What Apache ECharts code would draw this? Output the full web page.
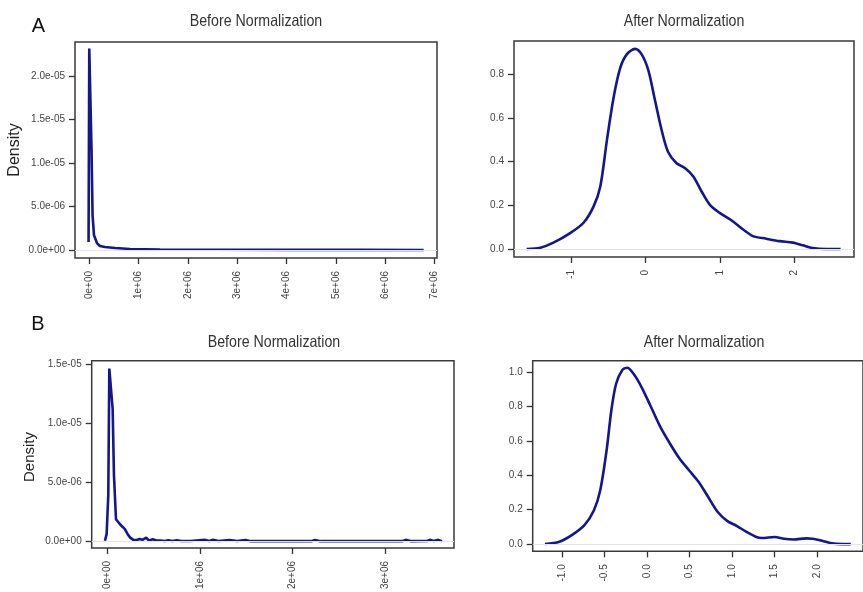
<!DOCTYPE html>
<html><head><meta charset="utf-8">
<script src="https://cdn.jsdelivr.net/npm/echarts@6/dist/echarts.min.js"></script>
<style>html,body{margin:0;padding:0;background:#fff}#c{width:863px;height:592px}</style>
</head><body><div id="c"></div>
<script>
// ---------- data ----------
// Panel A, before normalization
const aBeforeX = [-1.0e4, 4e3, 3.0e4, 5.0e4, 7.1e4, 1.0e5, 1.6e5, 2.2e5, 3.2e5, 5.3e5, 8.3e5, 1.44e6, 2.5e6, 4.0e6, 5.5e6, 6.78e6];
const aBeforeY = [9.2e-7, 2.32e-5, 2.32e-5, 1.15e-5, 4.0e-6, 1.7e-6, 8e-7, 4.6e-7, 3.5e-7, 2.3e-7, 1.2e-7, 6e-8, 3e-8, 2e-8, 1e-8, 0];
const aBeforeXTicks = [0, 1e6, 2e6, 3e6, 4e6, 5e6, 6e6, 7e6];
const aBeforeXLabels = ['0e+00', '1e+06', '2e+06', '3e+06', '4e+06', '5e+06', '6e+06', '7e+06'];
const aBeforeYTicks = [0, 5e-6, 1e-5, 1.5e-5, 2e-5];
const aBeforeYLabels = ['0.0e+00', '5.0e-06', '1.0e-05', '1.5e-05', '2.0e-05'];

// Panel A, after normalization
const aAfterX = [-1.60, -1.415, -1.24, -1.01, -0.835, -0.70, -0.61, -0.52, -0.43, -0.34, -0.254, -0.143, -0.054, 0.036, 0.125, 0.214, 0.30, 0.415, 0.527, 0.64, 0.75, 0.86, 0.995, 1.17, 1.31, 1.44, 1.62, 1.80, 1.98, 2.11, 2.245, 2.42, 2.62];
const aAfterY = [0, 0.006, 0.029, 0.074, 0.12, 0.195, 0.286, 0.50, 0.695, 0.83, 0.89, 0.915, 0.89, 0.817, 0.68, 0.544, 0.445, 0.392, 0.37, 0.332, 0.264, 0.203, 0.165, 0.127, 0.089, 0.059, 0.047, 0.036, 0.029, 0.017, 0.0045, 0, 0];
const aAfterXTicks = [-1, 0, 1, 2];
const aAfterXLabels = ['-1', '0', '1', '2'];
const aAfterYTicks = [0, 0.2, 0.4, 0.6, 0.8];
const aAfterYLabels = ['0.0', '0.2', '0.4', '0.6', '0.8'];

// Panel B, before normalization
const bBeforeX = [-2.5e4, -7e3, 1.1e4, 2.2e4, 3.6e4, 5.8e4, 7.2e4, 9.4e4, 1.37e5, 1.9e5, 2.2e5, 2.45e5, 2.8e5, 3.17e5, 3.5e5, 3.8e5, 4.2e5, 4.5e5, 4.9e5, 5.3e5, 5.7e5, 6.2e5, 6.6e5, 7.0e5, 7.5e5, 8.0e5, 9.0e5, 1.05e6, 1.1e6, 1.14e6, 1.2e6, 1.32e6, 1.4e6, 1.49e6, 1.55e6, 2.2e6, 2.24e6, 2.3e6, 3.18e6, 3.22e6, 3.28e6, 3.45e6, 3.48e6, 3.52e6, 3.57e6, 3.61e6];
const bBeforeY = [5e-8, 6e-7, 3.9e-6, 1.46e-5, 1.47e-5, 1.12e-5, 5.6e-6, 1.86e-6, 1.44e-6, 1.03e-6, 6e-7, 3.3e-7, 1.2e-7, 1.1e-7, 2e-7, 1.2e-7, 3e-7, 5e-8, 1.8e-7, 6e-8, 7e-8, 2e-8, 8e-8, 2e-8, 8e-8, 2e-8, 2e-8, 1.2e-7, 3e-8, 1.2e-7, 2e-8, 1e-7, 2e-8, 1e-7, 1e-8, 1e-8, 1e-7, 1e-8, 1e-8, 1.2e-7, 1e-8, 2e-8, 1.2e-7, 3e-8, 1.2e-7, 0];
const bBeforeXTicks = [0, 1e6, 2e6, 3e6];
const bBeforeXLabels = ['0e+00', '1e+06', '2e+06', '3e+06'];
const bBeforeYTicks = [0, 5e-6, 1e-5, 1.5e-5];
const bBeforeYLabels = ['0.0e+00', '5.0e-06', '1.0e-05', '1.5e-05'];

// Panel B, after normalization
const bAfterX = [-1.20, -1.03, -0.884, -0.735, -0.623, -0.549, -0.474, -0.418, -0.362, -0.287, -0.231, -0.157, -0.063, 0.049, 0.16, 0.272, 0.384, 0.496, 0.608, 0.72, 0.832, 0.944, 1.056, 1.168, 1.28, 1.354, 1.504, 1.616, 1.728, 1.877, 1.951, 2.063, 2.175, 2.30, 2.40];
const bAfterY = [0, 0.0135, 0.052, 0.11, 0.197, 0.313, 0.545, 0.778, 0.932, 1.013, 1.025, 0.99, 0.913, 0.797, 0.68, 0.584, 0.497, 0.429, 0.362, 0.275, 0.188, 0.135, 0.106, 0.072, 0.043, 0.035, 0.041, 0.031, 0.027, 0.033, 0.031, 0.019, 0.004, 0, 0];
const bAfterXTicks = [-1.0, -0.5, 0.0, 0.5, 1.0, 1.5, 2.0];
const bAfterXLabels = ['-1.0', '-0.5', '0.0', '0.5', '1.0', '1.5', '2.0'];
const bAfterYTicks = [0, 0.2, 0.4, 0.6, 0.8, 1.0];
const bAfterYLabels = ['0.0', '0.2', '0.4', '0.6', '0.8', '1.0'];

const panelTitles = ['Before Normalization', 'After Normalization', 'Before Normalization', 'After Normalization'];
const panelLetters = ['A', 'B'];
const yAxisTitle = 'Density';

// ---------- layout / style ----------
const LINE = '#15158e';
const LABEL_FONT = "'Liberation Sans', Arial, sans-serif";
const TITLE_FONT = "'Liberation Sans', Arial, sans-serif";

const panels = [
  {grid: {left: 75, top: 42, width: 362, height: 216}, xr: [-2.85e5, 7.05e6], yr: [-9.2e-7, 2.395e-5],
   xs: aBeforeX, ys: aBeforeY, xt: aBeforeXTicks, xl: aBeforeXLabels, yt: aBeforeYTicks, yl: aBeforeYLabels, smooth: false},
  {grid: {left: 514, top: 41, width: 340, height: 216}, xr: [-1.77, 2.80], yr: [-0.0366, 0.951],
   xs: aAfterX, ys: aAfterY, xt: aAfterXTicks, xl: aAfterXLabels, yt: aAfterYTicks, yl: aAfterYLabels, smooth: 0.3},
  {grid: {left: 91.7, top: 360.7, width: 362.3, height: 190}, xr: [-1.68e5, 3.74e6], yr: [-5.6e-7, 1.527e-5],
   xs: bBeforeX, ys: bBeforeY, xt: bBeforeXTicks, xl: bBeforeXLabels, yt: bBeforeYTicks, yl: bBeforeYLabels, smooth: false},
  {grid: {left: 532.7, top: 360.7, width: 347, height: 190.6}, xr: [-1.344, 2.544], yr: [-0.042, 1.066],
   xs: bAfterX, ys: bAfterY, xt: bAfterXTicks, xl: bAfterXLabels, yt: bAfterYTicks, yl: bAfterYLabels, smooth: 0.3}
];

function labelFor(ticks, labels) {
  return function (v) {
    for (let i = 0; i < ticks.length; i++) {
      const tol = Math.max(Math.abs(ticks[i]), 1e-12) * 1e-6 + 1e-15;
      if (Math.abs(ticks[i] - v) <= tol) return labels[i];
    }
    return '';
  };
}

const grids = [], xAxes = [], yAxes = [], series = [];
panels.forEach((p, i) => {
  grids.push(Object.assign({show: true, borderColor: '#3a3a3a', borderWidth: 1.5, backgroundColor: 'transparent', containLabel: false}, p.grid));
  xAxes.push({
    type: 'value', gridIndex: i, min: p.xr[0], max: p.xr[1],
    axisLine: {show: false, onZero: false}, splitLine: {show: false},
    axisTick: {show: true, length: 6, customValues: p.xt, lineStyle: {color: '#333', width: 1.3}},
    axisLabel: {show: true, customValues: p.xt, rotate: 90, margin: 13, formatter: labelFor(p.xt, p.xl),
      color: '#444', fontSize: 10, fontFamily: LABEL_FONT, hideOverlap: false}
  });
  yAxes.push({
    type: 'value', gridIndex: i, min: p.yr[0], max: p.yr[1],
    axisLine: {show: false, onZero: false}, splitLine: {show: false},
    axisTick: {show: true, length: 6, customValues: p.yt, lineStyle: {color: '#333', width: 1.3}},
    axisLabel: {show: true, customValues: p.yt, margin: 10, formatter: labelFor(p.yt, p.yl),
      color: '#444', fontSize: 10, fontFamily: LABEL_FONT, hideOverlap: false}
  });
  series.push({
    type: 'line', xAxisIndex: i, yAxisIndex: i,
    data: p.xs.map((x, k) => [x, p.ys[k]]),
    showSymbol: false, symbol: 'none', smooth: p.smooth, clip: true,
    lineStyle: {color: LINE, width: 2.6},
    markLine: {silent: true, symbol: 'none', label: {show: false}, animation: false,
      lineStyle: {color: '#e4e4e4', type: 'solid', width: 1}, data: [{yAxis: 0}]},
    z: 3
  });
});

const titleText = (text, x, y, size, font, color, sx) => ({
  type: 'text', x: x, y: y, scaleX: sx || 1,
  style: {text: text, fill: color || '#333', fontSize: size, fontFamily: font, textAlign: 'center', textVerticalAlign: 'middle'}
});

const graphic = [
  titleText(panelTitles[0], 256, 21, 16.5, TITLE_FONT, '#333', 0.86),
  titleText(panelTitles[1], 684, 21, 16.5, TITLE_FONT, '#333', 0.86),
  titleText(panelTitles[2], 274, 342, 16.5, TITLE_FONT, '#333', 0.86),
  titleText(panelTitles[3], 704, 342, 16.5, TITLE_FONT, '#333', 0.86),
  titleText(panelLetters[0], 38.5, 26, 20, LABEL_FONT, '#111'),
  titleText(panelLetters[1], 38, 324, 20, LABEL_FONT, '#111'),
  {type: 'text', x: 15, y: 150, rotation: Math.PI / 2,
   style: {text: yAxisTitle, fill: '#222', fontSize: 16, fontFamily: LABEL_FONT, textAlign: 'center', textVerticalAlign: 'middle'}},
  {type: 'text', x: 30, y: 457, rotation: Math.PI / 2,
   style: {text: yAxisTitle, fill: '#222', fontSize: 15, fontFamily: LABEL_FONT, textAlign: 'center', textVerticalAlign: 'middle'}}
];

const chart = echarts.init(document.getElementById('c'), null, {renderer: 'canvas'});
chart.setOption({
  animation: false,
  backgroundColor: '#fff',
  grid: grids, xAxis: xAxes, yAxis: yAxes, series: series, graphic: graphic
});
</script>
</body></html>
